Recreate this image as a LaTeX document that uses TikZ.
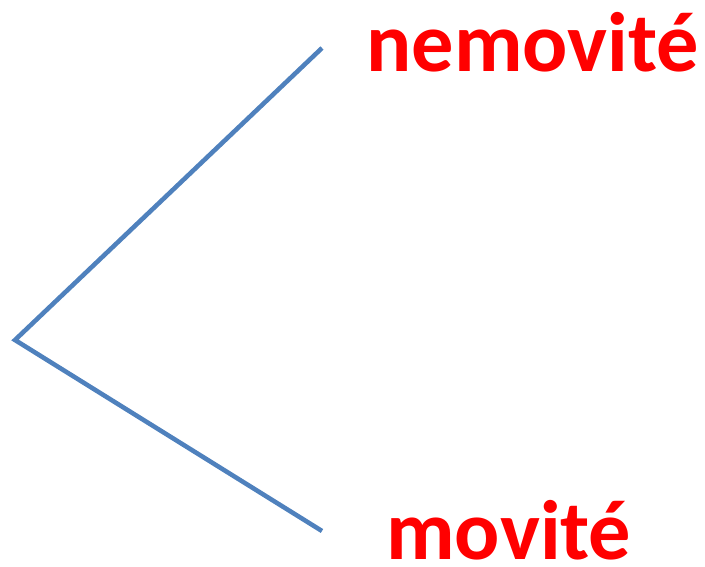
\documentclass[tikz,border=0pt]{standalone}
\usepackage{fontspec}
\setmainfont{Carlito}
\usetikzlibrary{positioning}
\definecolor{branchblue}{HTML}{4F81BD}

\begin{document}
\begin{tikzpicture}[x=0.02cm,y=0.02cm,
    branch/.style={line width=2.6pt,branchblue},
    term/.style={inner sep=0pt,anchor=base west,text=red,font=\bfseries\fontsize{48}{50}\selectfont}]
  \useasboundingbox (0,0) rectangle (705,566);
  \coordinate (apex) at (15, 226);
  \coordinate (upper) at (322, 518);
  \coordinate (lower) at (322, 35);
  \draw[branch] (upper) -- (apex) -- (lower);
  \node[term] (nemovite) at (366, 495) {nemovité};
  \node[term] (movite) at (386, 7) {movité};
\end{tikzpicture}
\end{document}
